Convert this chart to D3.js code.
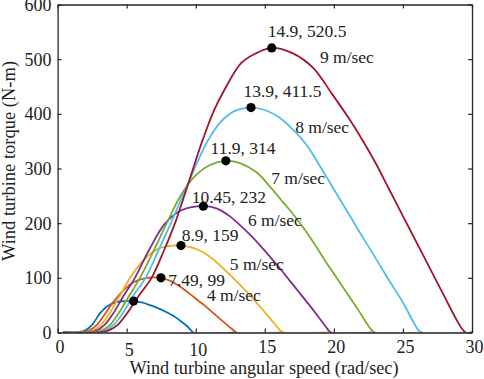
<!DOCTYPE html>
<html>
<head>
<meta charset="utf-8">
<script src="https://cdn.jsdelivr.net/npm/d3@7"></script>
<style>
  body { margin: 0; background: #fff; }
</style>
</head>
<body>
<div id="chart-area"></div>
<script>
// Wind speeds (m/sec) and the torque curves: [omega, torque]
const speeds = [3, 4, 5, 6, 7, 8, 9]
const curve3 = [[0.4,0],[1.3,0],[2.0,4],[2.5,14],[3.04,34],[3.6,48],[4.28,56],[5.0,57.3],[5.5,57.5],[6.1,55],[6.7,50],[7.3,44],[7.9,37],[8.4,30],[8.9,21],[9.4,11],[9.65,4],[9.85,0],[12.96,0]]
const curve4 = [[0.4,0],[1.6,0],[2.3,4],[2.85,14],[3.43,34],[4.1,58],[4.8,78],[5.5,92],[6.3,99],[7.48,100],[8.2,94],[8.86,84],[9.5,72],[10.2,58],[10.8,46],[11.3,35],[11.8,24],[12.3,13],[12.7,5],[12.96,0],[16.35,0]]
const curve5 = [[0.4,0],[1.9,0],[2.6,4],[3.15,14],[3.74,34],[4.5,67],[5.25,100],[6.2,132],[7.2,152],[8.0,158],[8.93,159],[9.8,155],[10.6,146],[11.3,133],[12.0,117],[12.7,100],[13.4,82],[14.1,63],[14.8,43],[15.4,25],[15.9,10],[16.15,3],[16.35,0],[19.8,0]]
const curve6 = [[0.4,0],[2.1,0],[2.85,4],[3.4,14],[4.0,34],[4.8,68],[5.6,100],[6.6,150],[7.8,200],[9.0,224],[10.55,231],[11.5,227],[12.5,212],[13.3,194],[14.0,177],[14.7,158],[15.4,138],[16.1,117],[16.8,95],[17.5,73],[18.2,51],[18.9,28],[19.4,11],[19.65,3],[19.8,0],[22.97,0]]
const curve7 = [[0.4,0],[2.4,0],[3.2,4],[3.8,14],[4.39,34],[5.2,68],[5.96,100],[6.96,150],[7.9,200],[8.9,250],[9.9,285],[11.0,306],[12.18,314],[13.2,310],[14.4,293],[15.4,266],[16.3,239],[17.1,215],[17.9,188],[18.7,158],[19.4,130],[20.2,100],[21.0,70],[21.8,40],[22.4,16],[22.75,4],[22.97,0],[26.4,0]]
const curve8 = [[0.4,0],[2.6,0],[3.45,4],[4.05,14],[4.68,34],[5.5,68],[6.37,100],[7.3,150],[8.2,200],[9.1,253],[10.0,305],[10.9,352],[11.8,385],[12.8,405],[14.0,411.5],[15.0,407],[16.0,394],[17.0,372],[18.0,344],[19.0,304],[20.0,262],[21.0,220],[22.0,178],[23.0,137],[24.0,95],[25.0,55],[25.8,17],[26.1,5],[26.4,0],[29.55,0]]
const curve9 = [[0.4,0],[2.8,0],[3.7,4],[4.35,14],[5.0,34],[5.9,68],[6.8,100],[7.7,150],[8.5,200],[9.3,260],[10.5,352],[11.3,405],[12.1,445],[13.3,493],[14.3,510],[15.5,520.5],[17.0,511],[18.5,484],[19.85,437],[21.0,395],[22.0,355],[23.0,311],[24.0,262],[25.0,213],[26.0,164],[27.0,115],[28.0,66],[28.8,27],[29.3,6],[29.55,0],[30,0]]
const curves = [curve3, curve4, curve5, curve6, curve7, curve8, curve9]

// Maximum-torque points and their labels
const peakOmega = [5.5, 7.48, 8.93, 10.55, 12.18, 14.0, 15.5]
const peakTorque = [57.5, 100, 159, 231, 314, 411.5, 520.5]
const peakLabels = ["", "7.49, 99", "8.9, 159", "10.45, 232", "11.9, 314", "13.9, 411.5", "14.9, 520.5"]
const speedLabels = ["", "4 m/sec", "5 m/sec", "6 m/sec", "7 m/sec", "8 m/sec", "9 m/sec"]

const xTicks = [0, 5, 10, 15, 20, 25, 30]
const yTicks = [0, 100, 200, 300, 400, 500, 600]

const COLORS = ["#0072BD", "#D95319", "#EDB120", "#7E2F8E", "#77AC30", "#4DBEEE", "#A2142F"]
const FONT = "Liberation Serif"

const MARGIN = { LEFT: 57.6, RIGHT: 12, TOP: 4.5, BOTTOM: 46.5 }
const WIDTH = 484 - MARGIN.LEFT - MARGIN.RIGHT
const HEIGHT = 379 - MARGIN.TOP - MARGIN.BOTTOM

const svg = d3.select("#chart-area").append("svg")
  .attr("width", 484)
  .attr("height", 379)

const g = svg.append("g")
  .attr("transform", `translate(${MARGIN.LEFT}, ${MARGIN.TOP})`)

svg.append("defs").append("clipPath")
  .attr("id", "plot-clip")
  .append("rect")
  .attr("x", 0).attr("y", 0)
  .attr("width", WIDTH).attr("height", HEIGHT)

const x = d3.scaleLinear().domain([0, 30]).range([0, WIDTH])
const y = d3.scaleLinear().domain([0, 600]).range([HEIGHT, 0])

// Curves, 3 m/sec first so 9 m/sec ends on top
const line = d3.line()
  .x(d => x(d[0]))
  .y(d => y(d[1]))
  .curve(d3.curveCatmullRom.alpha(0.5))

g.append("g")
  .attr("clip-path", "url(#plot-clip)")
  .selectAll("path.curve")
  .data(curves)
  .enter().append("path")
  .attr("class", "curve")
  .attr("d", line)
  .attr("fill", "none")
  .attr("stroke", (d, i) => COLORS[i])
  .attr("stroke-width", 1.8)

// Axes with inward ticks, boxed
const axisColor = "#262626"
const xAxis = g.append("g")
  .attr("transform", `translate(0, ${HEIGHT})`)
  .call(d3.axisBottom(x).tickValues(xTicks).tickSize(-4).tickSizeOuter(0))
xAxis.selectAll("text")
  .attr("x", 2)
  .attr("y", d => (d === 5 || d === 10) ? 23 : 20.5)
  .attr("dy", 0)

g.append("g")
  .call(d3.axisTop(x).tickValues(xTicks).tickSize(-4).tickSizeOuter(0).tickFormat(""))

const yAxis = g.append("g")
  .call(d3.axisLeft(y).tickValues(yTicks).tickSize(-4).tickSizeOuter(0))
yAxis.selectAll("text")
  .attr("x", -6)
  .attr("dy", "0.33em")

g.append("g")
  .attr("transform", `translate(${WIDTH}, 0)`)
  .call(d3.axisRight(y).tickValues(yTicks).tickSize(-4).tickSizeOuter(0).tickFormat(""))

g.selectAll(".domain").attr("stroke", axisColor).attr("stroke-width", 1.3)
g.selectAll(".tick line").attr("stroke", axisColor).attr("stroke-width", 1.2)
g.selectAll("g").attr("font-family", FONT).attr("font-size", 18)
g.selectAll(".tick text")
  .attr("fill", "#222")
  .attr("font-family", FONT)
  .attr("font-size", 18)

// Peak markers
g.selectAll("circle.peak")
  .data(peakOmega)
  .enter().append("circle")
  .attr("class", "peak")
  .attr("cx", d => x(d))
  .attr("cy", (d, i) => y(peakTorque[i]))
  .attr("r", 4.6)
  .attr("fill", "#000")

// Peak labels, offset from their markers
const labelOffsets = [[0, 0], [7.3, 7.7], [0.7, -5], [-11.6, -3], [-15.3, -6.7], [-7.6, -10.3], [-4, -11.3]]
g.selectAll("text.peak-label")
  .data(peakLabels)
  .enter().append("text")
  .attr("class", "peak-label")
  .attr("x", (d, i) => x(peakOmega[i]) + labelOffsets[i][0])
  .attr("y", (d, i) => y(peakTorque[i]) + labelOffsets[i][1])
  .attr("fill", "#222")
  .attr("font-family", FONT)
  .attr("font-size", 17.5)
  .text(d => d)

// Wind speed labels, placed in data units
const speedLabelAt = [[0, 0], [10.81, 58.5], [12.47, 114.3], [13.78, 194.8], [15.46, 271], [17.2, 365.5], [18.99, 493]]
g.selectAll("text.speed-label")
  .data(speedLabels)
  .enter().append("text")
  .attr("class", "speed-label")
  .attr("x", (d, i) => x(speedLabelAt[i][0]))
  .attr("y", (d, i) => y(speedLabelAt[i][1]))
  .attr("fill", "#222")
  .attr("font-family", FONT)
  .attr("font-size", 17.5)
  .text(d => d)

// Axis titles
svg.append("text")
  .attr("x", 264)
  .attr("y", 373.5)
  .attr("text-anchor", "middle")
  .attr("fill", "#222")
  .attr("font-family", FONT)
  .attr("font-size", 18.2)
  .text("Wind turbine angular speed (rad/sec)")

svg.append("text")
  .attr("transform", "translate(15, 161) rotate(-90)")
  .attr("text-anchor", "middle")
  .attr("fill", "#222")
  .attr("font-family", FONT)
  .attr("font-size", 18.5)
  .text("Wind turbine torque (N-m)")
</script>
</body>
</html>
